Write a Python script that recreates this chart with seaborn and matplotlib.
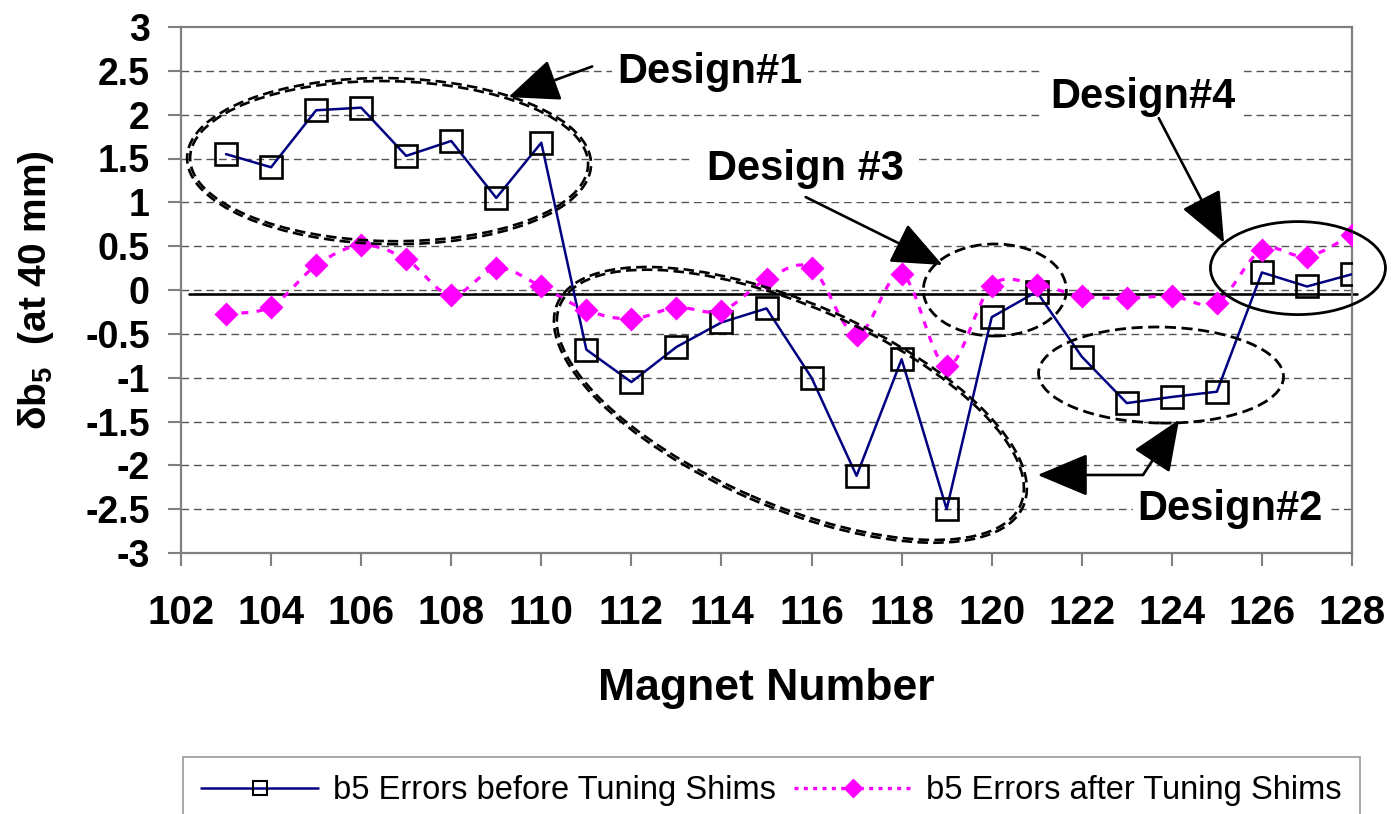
import matplotlib
matplotlib.use("Agg")
import numpy as np
import pandas as pd
import matplotlib.pyplot as plt
import matplotlib.transforms as mtransforms
import seaborn as sns
from matplotlib import font_manager
from matplotlib.patches import Ellipse, PathPatch
from matplotlib.path import Path
from matplotlib.lines import Line2D

# ---- data -------------------------------------------------------------
magnets = list(range(103, 129))
b5_before = [1.55, 1.40, 2.05, 2.08, 1.53, 1.70, 1.05, 1.68,
             -0.68, -1.05, -0.65, -0.37, -0.21, -1.00, -2.12, -0.79, -2.50, -0.31, -0.02,
             -0.76, -1.29, -1.22, -1.16,
             0.20, 0.04, 0.18]
b5_after = [-0.27, -0.19, 0.28, 0.51, 0.35, -0.06, 0.25, 0.04,
            -0.23, -0.33, -0.20, -0.24, 0.12, 0.25, -0.51, 0.18, -0.87, 0.05, 0.06,
            -0.07, -0.095, -0.07, -0.145,
            0.46, 0.38, 0.63]
series_labels = ["b5 Errors before Tuning Shims", "b5 Errors after Tuning Shims"]
x_ticks = list(range(102, 129, 2))
y_ticks = [-3, -2.5, -2, -1.5, -1, -0.5, 0, 0.5, 1, 1.5, 2, 2.5, 3]
y_tick_labels = ["-3", "-2.5", "-2", "-1.5", "-1", "-0.5", "0", "0.5", "1", "1.5", "2", "2.5", "3"]
reference_level = -0.04

# design groupings: (centre x, centre y) in data units, size in pixels, tilt, style
design_ellipses = [
    dict(center=(106.62, 1.47), size=(398, 160), angle=-1.0, style="double"),
    dict(center=(115.53, -1.31), size=(502, 198), angle=-23.5, style="double"),
    dict(center=(120.07, 0.00), size=(143, 92), angle=0.0, style="dashed"),
    dict(center=(126.80, 0.25), size=(175, 93), angle=0.0, style="solid"),
    dict(center=(123.76, -0.97), size=(245, 96), angle=-1.0, style="dashed"),
]
design_labels = [
    dict(text="Design#1", pos=(111.69, 2.49), arrows=[((111.13, 2.55), (109.27, 2.20))], pad=4),
    dict(text="Design #3", pos=(113.67, 1.38), arrows=[((115.87, 1.06), (118.91, 0.285))], pad=9),
    dict(text="Design#4", pos=(121.31, 2.20), arrows=[((123.71, 1.96), (125.16, 0.536))], pad=6),
    dict(text="Design#2", pos=(123.24, -2.50),
         arrows=[((123.36, -2.11), (121.02, -2.11)), ((123.36, -2.11), (124.16, -1.48))], pad=3),
]

# ---- style ------------------------------------------------------------
sns.set_theme(style="white")
plt.rcParams["font.family"] = ["Liberation Sans", "DejaVu Sans"]
plt.rcParams["mathtext.fontset"] = "custom"
plt.rcParams["mathtext.rm"] = "Liberation Sans:bold"
plt.rcParams["mathtext.bf"] = "Liberation Sans:bold"
plt.rcParams["mathtext.it"] = "Liberation Sans:bold"
for key in ["text.color", "axes.labelcolor", "xtick.labelcolor", "ytick.labelcolor"]:
    plt.rcParams[key] = "black"

installed = {f.name for f in font_manager.fontManager.ttflist}
legend_family = "Liberation Sans Narrow" if "Liberation Sans Narrow" in installed else "Liberation Sans"

navy = "#000080"
magenta = "#FF00FF"
frame_gray = "#808080"

fig = plt.figure(figsize=(13.94, 8.14), dpi=100)
ax = fig.add_axes([181 / 1394, 1 - 553 / 814, (1352 - 181) / 1394, (553 - 27) / 814])

df = pd.DataFrame({"magnet": magnets, "before": b5_before, "after": b5_after})

ax.set_xlim(102, 128)
ax.set_ylim(-3, 3)

# dashed horizontal grid
for yv in y_ticks[1:-1]:
    ax.axhline(yv, color="#555555", lw=1.0, ls=(0, (5.5, 3.5)), zorder=1)

# reference line just below zero
ax.axhline(reference_level, xmin=0.007, xmax=1.004, color="black", lw=1.9, zorder=2, clip_on=False)

# series before shimming
sns.lineplot(data=df, x="magnet", y="before", ax=ax, color=navy, lw=1.8,
             marker="s", markersize=15.5, markerfacecolor="none",
             markeredgecolor="black", markeredgewidth=1.9, zorder=3)

# series after shimming: smoothed dotted curve plus diamonds
xs = np.asarray(df["magnet"], dtype=float)
ys = np.asarray(df["after"], dtype=float)
verts = [(xs[0], ys[0])]
codes = [Path.MOVETO]
n = len(xs)
for i in range(n - 1):
    p0 = np.array([xs[max(i - 1, 0)], ys[max(i - 1, 0)]])
    p1 = np.array([xs[i], ys[i]])
    p2 = np.array([xs[i + 1], ys[i + 1]])
    p3 = np.array([xs[min(i + 2, n - 1)], ys[min(i + 2, n - 1)]])
    c1 = p1 + (p2 - p0) / 6.0
    c2 = p2 - (p3 - p1) / 6.0
    verts += [tuple(c1), tuple(c2), tuple(p2)]
    codes += [Path.CURVE4, Path.CURVE4, Path.CURVE4]
ax.add_patch(PathPatch(Path(verts, codes), fill=False, edgecolor=magenta, lw=2.3,
                       ls=(0, (2.2, 2.6)), zorder=4, transform=ax.transData))
sns.scatterplot(data=df, x="magnet", y="after", ax=ax, marker="D", s=150,
                color=magenta, edgecolor=magenta, linewidth=0, zorder=5)

# axes, ticks
ax.set_xticks(x_ticks)
ax.set_xticklabels([str(v) for v in x_ticks], fontsize=29, fontweight="bold")
ax.set_yticks(y_ticks)
ax.set_yticklabels(y_tick_labels, fontsize=27, fontweight="bold")
ax.tick_params(axis="both", direction="out", length=9.5, width=1.5, color=frame_gray,
               labelcolor="black", left=True, bottom=True)
ax.tick_params(axis="x", pad=20)
ax.tick_params(axis="y", pad=13)
for side in ["left", "right", "top", "bottom"]:
    ax.spines[side].set_color(frame_gray)
    ax.spines[side].set_linewidth(1.6)
ax.set_xlabel("Magnet Number", fontsize=32, fontweight="bold", labelpad=26)
ax.set_ylabel(r"$\delta$b$_5$  (at 40 mm)", fontsize=28, fontweight="bold", labelpad=21)

# design groupings
for e in design_ellipses:
    cx, cy = e["center"]
    w, h = e["size"]
    offset = mtransforms.ScaledTranslation(cx, cy, ax.transData)
    if e["style"] == "double":
        for dw in (0, 6):
            ax.add_patch(Ellipse((0, 0), (w + dw) / 100, (h + dw) / 100, angle=e["angle"],
                                 fill=False, edgecolor="black", lw=1.9, ls=(0, (4, 2)),
                                 transform=fig.dpi_scale_trans + offset, clip_on=False, zorder=6))
    elif e["style"] == "dashed":
        ax.add_patch(Ellipse((0, 0), w / 100, h / 100, angle=e["angle"],
                             fill=False, edgecolor="black", lw=2.0, ls=(0, (4, 2)),
                             transform=fig.dpi_scale_trans + offset, clip_on=False, zorder=6))
    else:
        ax.add_patch(Ellipse((0, 0), w / 100, h / 100, angle=e["angle"],
                             fill=False, edgecolor="black", lw=2.0,
                             transform=fig.dpi_scale_trans + offset, clip_on=False, zorder=6))

for d in design_labels:
    ax.text(d["pos"][0], d["pos"][1], d["text"], fontsize=30, fontweight="bold",
            ha="left", va="center", zorder=7, color="black",
            bbox=dict(facecolor="white", edgecolor="none", pad=d["pad"]))
    for start, tip in d["arrows"]:
        ax.annotate("", xy=tip, xytext=start, zorder=8, annotation_clip=False,
                    arrowprops=dict(arrowstyle="-|>,head_length=1.0,head_width=0.42",
                                    mutation_scale=32, lw=1.9, color="black",
                                    shrinkA=0, shrinkB=0))

# legend
handles = [
    Line2D([], [], color=navy, lw=1.8, marker="s", markersize=10,
           markerfacecolor="none", markeredgecolor="black", markeredgewidth=1.5),
    Line2D([], [], color=magenta, lw=2.4, ls=(0, (1.2, 1.6)), marker="D", markersize=9,
           markerfacecolor=magenta, markeredgecolor=magenta),
]
leg = fig.legend(handles, series_labels, loc="upper left",
                 bbox_to_anchor=(183 / 1394, 1 - 757 / 814), ncol=2,
                 frameon=True, fancybox=False, edgecolor=frame_gray,
                 prop={"family": legend_family, "size": 23.5},
                 handlelength=3.6, handletextpad=0.45, columnspacing=0.55,
                 borderpad=0.55, borderaxespad=0)
leg.get_frame().set_linewidth(1.2)

fig.savefig("out.png", dpi=100)
